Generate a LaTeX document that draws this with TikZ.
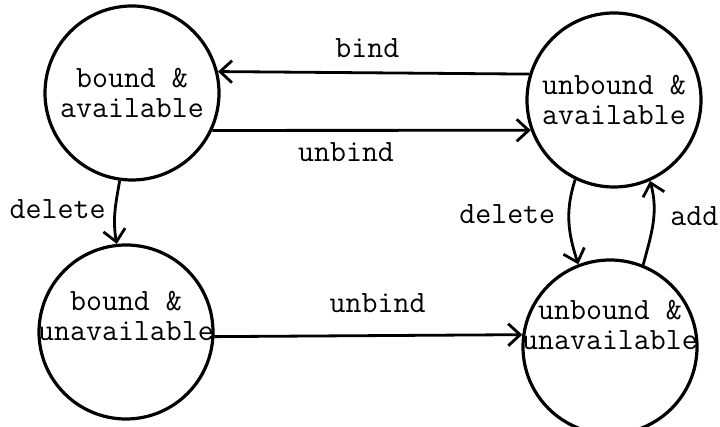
\documentclass[tikz,border=0pt]{standalone}
\usepackage{fontspec}
\usetikzlibrary{arrows.meta}

\tikzset{
  state/.style={circle,draw,line width=3.2pt,minimum size=174pt,inner sep=0pt,align=center},
  statetext/.style={align=center,inner sep=0pt},
  trans/.style={black,-{Straight Barb[length=12pt,width=22pt,line width=2.8pt]},line width=2.8pt},
}

\begin{document}
\begin{tikzpicture}[x=1pt,y=1pt,font=\ttfamily\fontsize{31}{30}\selectfont]
   \useasboundingbox (0,0) rectangle (720,427);
   \node[state] (ba) at (132,334) {bound \&\\available};
   \node[state] (ua) at (614,327) {unbound \&\\available};
   \node[state,label={[statetext,yshift=16pt]center:{bound \&\\unavailable}}] (bu) at (126,95) {};
   \node[state,label={[statetext,yshift=22pt]center:{unbound \&\\unavailable}}] (uu) at (610,80) {};
   \draw[trans] (ua.163)--(ba.14) node[pos=0.52,above=10pt] () {bind};
   \draw[trans] (ba.-25)--(ua.200) node[pos=0.42,below=7pt] () {unbind};
   \draw[trans] (bu.-3)--(uu.172) node[pos=0.53,above=18pt] () {unbind};
   \draw[trans] (ba.-98) to[out=-100,in=100] node[pos=0.45,left=5pt] () {delete} (bu.96);
   \draw[trans] (ua.-116) to[out=-108,in=108] node[pos=0.4,left=9pt] () {delete} (uu.111);
   \draw[trans] (uu.68) to[out=75,in=-75] node[pos=0.58,right=12pt] () {add} (ua.-66);
\end{tikzpicture}
\end{document}
